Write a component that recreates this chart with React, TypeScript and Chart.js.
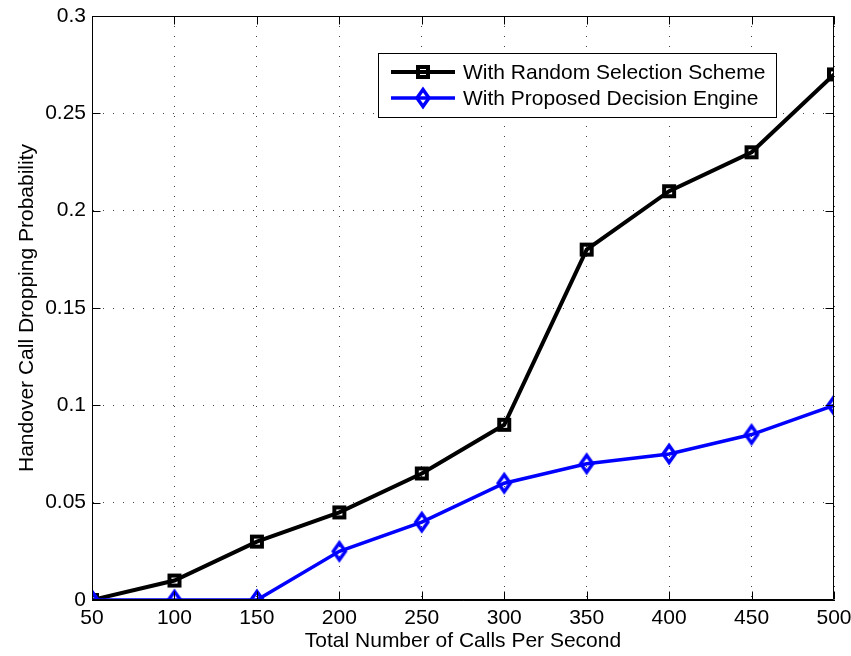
import React, { useEffect, useRef } from 'react';
import { Chart, registerables } from 'chart.js';

Chart.register(...registerables);

const callsPerSecond = [50, 100, 150, 200, 250, 300, 350, 400, 450, 500];
const randomScheme = [0, 0.01, 0.03, 0.045, 0.065, 0.09, 0.18, 0.21, 0.23, 0.27];
const proposedEngine = [0, 0, 0, 0.025, 0.04, 0.06, 0.07, 0.075, 0.085, 0.1];
const seriesLabels = ['With Random Selection Scheme', 'With Proposed Decision Engine'];
const xTitle = 'Total Number of Calls Per Second';
const yTitle = 'Handover Call Dropping Probability';

const FONT = "'Liberation Sans', Arial, Helvetica, sans-serif";
const FS = 21;

function makeSquare(): HTMLCanvasElement {
  const c = document.createElement('canvas');
  c.width = 16;
  c.height = 16;
  const ctx = c.getContext('2d')!;
  ctx.strokeStyle = '#000';
  ctx.lineWidth = 4;
  ctx.strokeRect(3, 3, 10, 10);
  return c;
}

function makeDiamond(): HTMLCanvasElement {
  const c = document.createElement('canvas');
  c.width = 18;
  c.height = 26;
  const ctx = c.getContext('2d')!;
  ctx.strokeStyle = '#0000ff';
  ctx.lineWidth = 3.5;
  ctx.lineJoin = 'miter';
  ctx.beginPath();
  ctx.moveTo(9, 4.5);
  ctx.lineTo(15, 13);
  ctx.lineTo(9, 21.5);
  ctx.lineTo(3, 13);
  ctx.closePath();
  ctx.stroke();
  return c;
}

export default function App() {
  const ref = useRef<HTMLCanvasElement | null>(null);

  useEffect(() => {
    document.body.style.margin = '0';
    const canvas = ref.current;
    if (!canvas) return;
    const square = makeSquare();
    const diamond = makeDiamond();

    const framePlugin = {
      id: 'frameAndLegend',
      afterDatasetsDraw(chart: any) {
        const ctx = chart.ctx as CanvasRenderingContext2D;
        const a = chart.chartArea;
        const xs = chart.scales.x;
        const ys = chart.scales.y;
        const L = Math.round(a.left) + 0.5;
        const R = Math.round(a.right) - 0.5;
        const T = Math.round(a.top) + 0.5;
        const B = Math.round(a.bottom) - 0.5;
        ctx.save();
        ctx.strokeStyle = '#000';
        ctx.lineWidth = 1;
        ctx.setLineDash([]);
        ctx.beginPath();
        ctx.rect(L, T, R - L, B - T);
        const tl = 8;
        callsPerSecond.forEach((v) => {
          const px = Math.round(xs.getPixelForValue(v)) + 0.5;
          ctx.moveTo(px, B);
          ctx.lineTo(px, B - tl);
          ctx.moveTo(px, T);
          ctx.lineTo(px, T + tl);
        });
        ys.ticks.forEach((t: any) => {
          const py = Math.round(ys.getPixelForValue(t.value)) + 0.5;
          ctx.moveTo(L, py);
          ctx.lineTo(L + tl, py);
          ctx.moveTo(R, py);
          ctx.lineTo(R - tl, py);
        });
        ctx.stroke();

        // legend
        const bx = 378.5, by = 53.5, bw = 398, bh = 64;
        ctx.fillStyle = '#fff';
        ctx.fillRect(bx, by, bw, bh);
        ctx.strokeRect(bx, by, bw, bh);
        const rows = [
          { y: 72, color: '#000', lw: 4, img: square, label: seriesLabels[0] },
          { y: 98, color: '#0000ff', lw: 3.5, img: diamond, label: seriesLabels[1] },
        ];
        ctx.font = `${FS}px ${FONT}`;
        ctx.textBaseline = 'middle';
        ctx.textAlign = 'left';
        rows.forEach((r) => {
          ctx.strokeStyle = r.color;
          ctx.lineWidth = r.lw;
          ctx.beginPath();
          ctx.moveTo(391, r.y);
          ctx.lineTo(455, r.y);
          ctx.stroke();
          ctx.drawImage(r.img, 423 - r.img.width / 2, r.y - r.img.height / 2);
          ctx.fillStyle = '#000';
          ctx.fillText(r.label, 463, r.y + 1);
        });
        ctx.restore();
      },
    };

    const chart = new Chart(canvas, {
      type: 'line',
      data: {
        datasets: [
          {
            label: seriesLabels[0],
            data: callsPerSecond.map((x, i) => ({ x, y: randomScheme[i] })),
            borderColor: '#000',
            backgroundColor: '#000',
            borderWidth: 4,
            pointStyle: square,
            pointRadius: 8,
            tension: 0,
            order: 1,
          },
          {
            label: seriesLabels[1],
            data: callsPerSecond.map((x, i) => ({ x, y: proposedEngine[i] })),
            borderColor: '#0000ff',
            backgroundColor: '#0000ff',
            borderWidth: 3.5,
            pointStyle: diamond,
            pointRadius: 9,
            tension: 0,
            order: 0,
          },
        ],
      },
      options: {
        animation: false,
        responsive: false,
        maintainAspectRatio: false,
        events: [],
        layout: { padding: { left: 0, right: 17, top: 16, bottom: 0 } },
        plugins: {
          legend: { display: false },
          tooltip: { enabled: false },
        },
        scales: {
          x: {
            type: 'linear',
            min: 50,
            max: 500,
            afterFit: (s: any) => {
              s.height = 56;
              s.paddingLeft = 0;
              s.paddingRight = 0;
            },
            afterBuildTicks: (s: any) => {
              s.ticks = callsPerSecond.map((v) => ({ value: v }));
            },
            ticks: {
              color: '#000',
              font: { family: FONT, size: FS },
              padding: 6,
              maxRotation: 0,
              autoSkip: false,
            },
            grid: {
              drawTicks: false,
              color: 'rgba(0,0,0,0.75)',
              lineWidth: 1,
            },
            border: { display: true, color: '#000', dash: [1, 9] },
            title: {
              display: true,
              text: xTitle,
              color: '#000',
              font: { family: FONT, size: FS },
              padding: { top: 0, bottom: 2 },
            },
          },
          y: {
            type: 'linear',
            min: 0,
            max: 0.3,
            afterFit: (s: any) => {
              s.width = 92;
              s.paddingTop = 0;
              s.paddingBottom = 0;
            },
            ticks: {
              stepSize: 0.05,
              color: '#000',
              font: { family: FONT, size: FS },
              padding: 6,
              callback: (v: any) => String(Math.round(Number(v) * 100) / 100),
            },
            grid: {
              drawTicks: false,
              color: 'rgba(0,0,0,0.75)',
              lineWidth: 1,
            },
            border: { display: true, color: '#000', dash: [1, 9] },
            title: {
              display: true,
              text: yTitle,
              color: '#000',
              font: { family: FONT, size: FS },
              padding: { top: 15, bottom: 0 },
            },
          },
        },
      },
      plugins: [framePlugin],
    });

    return () => chart.destroy();
  }, []);

  return (
    <div style={{ width: 851, height: 656, background: '#fff' }}>
      <canvas ref={ref} width={851} height={656} style={{ display: 'block' }} />
    </div>
  );
}
